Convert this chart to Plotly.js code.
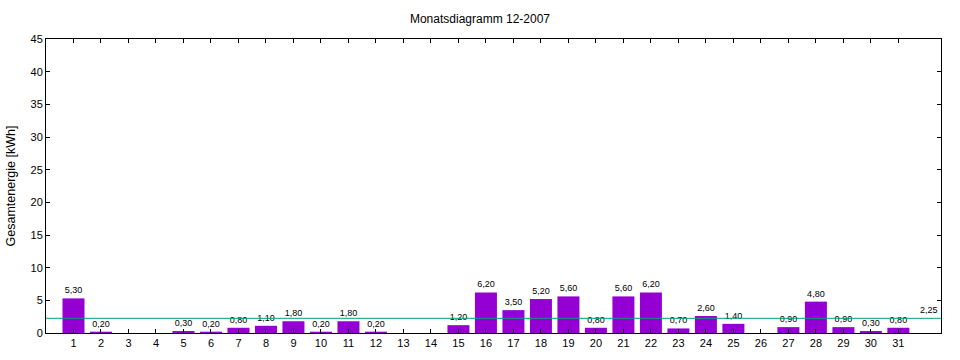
<!DOCTYPE html>
<html><head><meta charset="utf-8">
<script src="https://cdn.plot.ly/plotly-3.0.1.min.js"></script>
<style>html,body{margin:0;padding:0;background:#fff}#c{width:960px;height:360px}</style>
</head><body><div id="c"></div>
<script>
const days = [1,2,3,4,5,6,7,8,9,10,11,12,13,14,15,16,17,18,19,20,21,22,23,24,25,26,27,28,29,30,31];
const energy = [5.30,0.20,0,0,0.30,0.20,0.80,1.10,1.80,0.20,1.80,0.20,0,0,1.20,6.20,3.50,5.20,5.60,0.80,5.60,6.20,0.70,2.60,1.40,0,0.90,4.80,0.90,0.30,0.80];
const average = 2.25;
const titleText = 'Monatsdiagramm 12-2007';
const yTitle = 'Gesamtenergie [kWh]';
const yTicks = [0,5,10,15,20,25,30,35,40,45];

const fmt = v => v.toFixed(2).replace('.', ',');
const labels = energy.map(v => v > 0 ? fmt(v) : '');

const font = 'Liberation Sans, Arial, sans-serif';
const data = [{
  type: 'bar', x: days, y: energy, width: 0.8,
  marker: {color: '#9400D3', line: {width: 0}},
  text: labels, textposition: 'outside', cliponaxis: false,
  textfont: {size: 9, color: '#000', family: font},
  hoverinfo: 'x+y'
}];
const layout = {
  width: 960, height: 360,
  margin: {l: 46, r: 19, t: 39, b: 27},
  paper_bgcolor: '#fff', plot_bgcolor: '#fff',
  showlegend: false,
  title: {text: titleText, font: {size: 12, family: font, color: '#000'}, x: 0.5, xanchor: 'center', y: 0.948, yanchor: 'middle'},
  xaxis: {range: [0, 32.55], tickvals: days, ticktext: days.map(String),
    ticks: 'inside', ticklen: 4, tickcolor: '#000', showline: true, linecolor: '#000', linewidth: 1,
    mirror: 'ticks', showgrid: false, zeroline: false, tickfont: {size: 11, family: font, color: '#000'}},
  yaxis: {range: [0, 45], tickvals: yTicks, ticks: 'inside', ticklen: 4, tickcolor: '#000',
    showline: true, linecolor: '#000', linewidth: 1, mirror: 'ticks', showgrid: false, zeroline: false,
    tickfont: {size: 11, family: font, color: '#000'},
    title: {text: yTitle, font: {size: 12.5, family: font, color: '#000'}, standoff: 12}},
  bargap: 0.2,
  shapes: [{type: 'line', xref: 'paper', x0: 0, x1: 1, yref: 'y', y0: average, y1: average,
    line: {color: '#00A07A', width: 1}}],
  annotations: [{x: 32.1, y: average, xref: 'x', yref: 'y', text: fmt(average), showarrow: false,
    yanchor: 'bottom', yshift: 1, font: {size: 9, family: font, color: '#000'}}]
};
Plotly.newPlot('c', data, layout, {staticPlot: true});
</script></body></html>
